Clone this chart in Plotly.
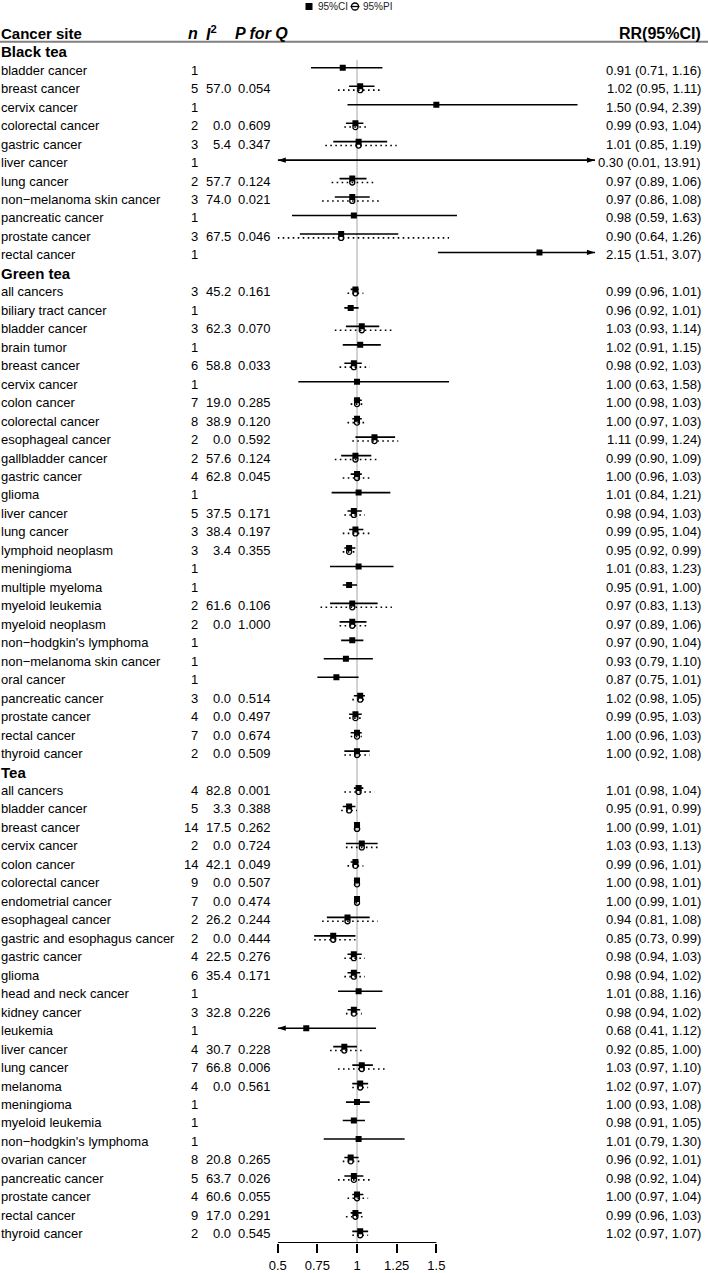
import plotly.graph_objects as go

W, H = 708, 1273
FONT = "Liberation Sans, Arial, sans-serif"
MINUS = "\u2212"

group_names = ["Black tea", "Green tea", "Tea"]

black_sites = ["bladder cancer", "breast cancer", "cervix cancer", "colorectal cancer", "gastric cancer",
               "liver cancer", "lung cancer", f"non{MINUS}melanoma skin cancer", "pancreatic cancer",
               "prostate cancer", "rectal cancer"]
black_n = [1, 5, 1, 2, 3, 1, 2, 3, 1, 3, 1]
black_i2 = [None, 57.0, None, 0.0, 5.4, None, 57.7, 74.0, None, 67.5, None]
black_p = [None, 0.054, None, 0.609, 0.347, None, 0.124, 0.021, None, 0.046, None]
black_rr = [0.91, 1.02, 1.50, 0.99, 1.01, 0.30, 0.97, 0.97, 0.98, 0.90, 2.15]
black_lo = [0.71, 0.95, 0.94, 0.93, 0.85, 0.01, 0.89, 0.86, 0.59, 0.64, 1.51]
black_hi = [1.16, 1.11, 2.39, 1.04, 1.19, 13.91, 1.06, 1.08, 1.63, 1.26, 3.07]
black_pi_lo = [None, 0.88, None, 0.92, 0.80, None, 0.84, 0.78, None, 0.50, None]
black_pi_hi = [None, 1.16, None, 1.06, 1.25, None, 1.12, 1.14, None, 1.58, None]

green_sites = ["all cancers", "biliary tract cancer", "bladder cancer", "brain tumor", "breast cancer",
               "cervix cancer", "colon cancer", "colorectal cancer", "esophageal cancer", "gallbladder cancer",
               "gastric cancer", "glioma", "liver cancer", "lung cancer", "lymphoid neoplasm", "meningioma",
               "multiple myeloma", "myeloid leukemia", "myeloid neoplasm", f"non{MINUS}hodgkin's lymphoma",
               f"non{MINUS}melanoma skin cancer", "oral cancer", "pancreatic cancer", "prostate cancer",
               "rectal cancer", "thyroid cancer"]
green_n = [3, 1, 3, 1, 6, 1, 7, 8, 2, 2, 4, 1, 5, 3, 3, 1, 1, 2, 2, 1, 1, 1, 3, 4, 7, 2]
green_i2 = [45.2, None, 62.3, None, 58.8, None, 19.0, 38.9, 0.0, 57.6, 62.8, None, 37.5, 38.4, 3.4, None,
            None, 61.6, 0.0, None, None, None, 0.0, 0.0, 0.0, 0.0]
green_p = [0.161, None, 0.070, None, 0.033, None, 0.285, 0.120, 0.592, 0.124, 0.045, None, 0.171, 0.197,
           0.355, None, None, 0.106, 1.000, None, None, None, 0.514, 0.497, 0.674, 0.509]
green_rr = [0.99, 0.96, 1.03, 1.02, 0.98, 1.00, 1.00, 1.00, 1.11, 0.99, 1.00, 1.01, 0.98, 0.99, 0.95, 1.01,
            0.95, 0.97, 0.97, 0.97, 0.93, 0.87, 1.02, 0.99, 1.00, 1.00]
green_lo = [0.96, 0.92, 0.93, 0.91, 0.92, 0.63, 0.98, 0.97, 0.99, 0.90, 0.96, 0.84, 0.94, 0.95, 0.92, 0.83,
            0.91, 0.83, 0.89, 0.90, 0.79, 0.75, 0.98, 0.95, 0.96, 0.92]
green_hi = [1.01, 1.01, 1.14, 1.15, 1.03, 1.58, 1.03, 1.03, 1.24, 1.09, 1.03, 1.21, 1.03, 1.04, 0.99, 1.23,
            1.00, 1.13, 1.06, 1.04, 1.10, 1.01, 1.05, 1.03, 1.03, 1.08]
green_pi_lo = [0.94, None, 0.86, None, 0.89, None, 0.96, 0.94, 0.97, 0.86, 0.91, None, 0.92, 0.91, 0.91, None,
               None, 0.77, 0.89, None, None, None, 0.97, 0.95, 0.96, 0.92]
green_pi_hi = [1.04, None, 1.23, None, 1.08, None, 1.04, 1.06, 1.26, 1.14, 1.09, None, 1.05, 1.08, 1.00, None,
               None, 1.22, 1.06, None, None, None, 1.06, 1.03, 1.03, 1.08]

tea_sites = ["all cancers", "bladder cancer", "breast cancer", "cervix cancer", "colon cancer",
             "colorectal cancer", "endometrial cancer", "esophageal cancer", "gastric and esophagus cancer",
             "gastric cancer", "glioma", "head and neck cancer", "kidney cancer", "leukemia", "liver cancer",
             "lung cancer", "melanoma", "meningioma", "myeloid leukemia", f"non{MINUS}hodgkin's lymphoma",
             "ovarian cancer", "pancreatic cancer", "prostate cancer", "rectal cancer", "thyroid cancer"]
tea_n = [4, 5, 14, 2, 14, 9, 7, 2, 2, 4, 6, 1, 3, 1, 4, 7, 4, 1, 1, 1, 8, 5, 4, 9, 2]
tea_i2 = [82.8, 3.3, 17.5, 0.0, 42.1, 0.0, 0.0, 26.2, 0.0, 22.5, 35.4, None, 32.8, None, 30.7, 66.8, 0.0,
          None, None, None, 20.8, 63.7, 60.6, 17.0, 0.0]
tea_p = [0.001, 0.388, 0.262, 0.724, 0.049, 0.507, 0.474, 0.244, 0.444, 0.276, 0.171, None, 0.226, None,
         0.228, 0.006, 0.561, None, None, None, 0.265, 0.026, 0.055, 0.291, 0.545]
tea_rr = [1.01, 0.95, 1.00, 1.03, 0.99, 1.00, 1.00, 0.94, 0.85, 0.98, 0.98, 1.01, 0.98, 0.68, 0.92, 1.03,
          1.02, 1.00, 0.98, 1.01, 0.96, 0.98, 1.00, 0.99, 1.02]
tea_lo = [0.98, 0.91, 0.99, 0.93, 0.96, 0.98, 0.99, 0.81, 0.73, 0.94, 0.94, 0.88, 0.94, 0.41, 0.85, 0.97,
          0.97, 0.93, 0.91, 0.79, 0.92, 0.92, 0.97, 0.96, 0.97]
tea_hi = [1.04, 0.99, 1.01, 1.13, 1.01, 1.01, 1.01, 1.08, 0.99, 1.03, 1.02, 1.16, 1.02, 1.12, 1.00, 1.10,
          1.07, 1.08, 1.05, 1.30, 1.01, 1.04, 1.04, 1.03, 1.07]
tea_pi_lo = [0.92, 0.90, 0.98, 0.93, 0.94, 0.98, 0.99, 0.78, 0.73, 0.92, 0.92, None, 0.93, None, 0.83, 0.88,
             0.97, None, None, None, 0.91, 0.88, 0.94, 0.93, 0.97]
tea_pi_hi = [1.11, 1.00, 1.02, 1.13, 1.04, 1.01, 1.01, 1.13, 0.99, 1.05, 1.05, None, 1.03, None, 1.03, 1.19,
             1.07, None, None, None, 1.02, 1.09, 1.07, 1.05, 1.07]

x_ticks = [0.5, 0.75, 1, 1.25, 1.5]
x_tick_labels = ["0.5", "0.75", "1", "1.25", "1.5"]
x_clip = (0.5, 2.5)

groups = [
    (group_names[0], black_sites, black_n, black_i2, black_p, black_rr, black_lo, black_hi, black_pi_lo, black_pi_hi),
    (group_names[1], green_sites, green_n, green_i2, green_p, green_rr, green_lo, green_hi, green_pi_lo, green_pi_hi),
    (group_names[2], tea_sites, tea_n, tea_i2, tea_p, tea_rr, tea_lo, tea_hi, tea_pi_lo, tea_pi_hi),
]

headers = []
rows = []
r = 0
for g in groups:
    name, sites, ns, i2s, ps, rrs, los, his, plos, phis = g
    headers.append((name, r))
    r += 1
    for k in range(len(sites)):
        rows.append(dict(row=r, site=sites[k], n=ns[k], i2=i2s[k], p=ps[k], rr=rrs[k], lo=los[k], hi=his[k],
                         plo=plos[k], phi=phis[k]))
        r += 1
last_row = r - 1

Y_TOP = -2.8
Y_BOT = last_row + 0.5
AX_PX = 1243
CI_OFF = -0.13
PI_OFF = 0.08


def px(x):
    return x / W


def py(y):
    return 1 - y / H


fig = go.Figure()

# CI lines (clipped to the visible range)
ci_x, ci_y = [], []
arr_r_x, arr_r_y, arr_l_x, arr_l_y = [], [], [], []
for d in rows:
    lo, hi = d["lo"], d["hi"]
    yy = d["row"] + CI_OFF
    ci_x += [max(lo, x_clip[0]), min(hi, x_clip[1]), None]
    ci_y += [yy, yy, None]
    if hi > x_clip[1]:
        arr_r_x.append(x_clip[1])
        arr_r_y.append(yy)
    if lo < x_clip[0]:
        arr_l_x.append(x_clip[0])
        arr_l_y.append(yy)
fig.add_trace(go.Scatter(x=ci_x, y=ci_y, mode="lines", line=dict(color="black", width=1.6),
                         hoverinfo="skip", showlegend=False))
fig.add_trace(go.Scatter(x=arr_r_x, y=arr_r_y, mode="markers",
                         marker=dict(symbol="arrow", angle=90, size=8.5, color="black", line=dict(width=0)),
                         hoverinfo="skip", showlegend=False))
fig.add_trace(go.Scatter(x=arr_l_x, y=arr_l_y, mode="markers",
                         marker=dict(symbol="arrow", angle=-90, size=8.5, color="black", line=dict(width=0)),
                         hoverinfo="skip", showlegend=False))

# PI lines (dotted)
pi_x, pi_y = [], []
for d in rows:
    if d["plo"] is None:
        continue
    yy = d["row"] + PI_OFF
    pi_x += [max(d["plo"], x_clip[0]), min(d["phi"], x_clip[1]), None]
    pi_y += [yy, yy, None]
fig.add_trace(go.Scatter(x=pi_x, y=pi_y, mode="lines",
                         line=dict(color="black", width=1.6, dash="1.6px,3.4px"),
                         hoverinfo="skip", showlegend=False))

sq = [d for d in rows if x_clip[0] <= d["rr"] <= x_clip[1]]
fig.add_trace(go.Scatter(x=[d["rr"] for d in sq], y=[d["row"] + CI_OFF for d in sq], mode="markers",
                         marker=dict(symbol="square", size=6, color="black", line=dict(width=0)),
                         hoverinfo="skip", showlegend=False))
pc = [d for d in rows if d["plo"] is not None]
fig.add_trace(go.Scatter(x=[d["rr"] for d in pc], y=[d["row"] + PI_OFF for d in pc], mode="markers",
                         marker=dict(symbol="circle-open", size=5, color="black", line=dict(width=1.3)),
                         hoverinfo="skip", showlegend=False))

annotations = []
BODY = dict(family=FONT, size=13, color="black")
HEAD = dict(family=FONT, size=15, color="black")
HEAD2 = dict(family=FONT, size=16, color="black")


def txt(x, y, s, anchor, font, yref="y"):
    annotations.append(dict(x=px(x), y=y, xref="paper", yref=yref, text=s, showarrow=False,
                            xanchor=anchor, yanchor="middle", font=font, borderpad=0))


txt(0, -1, "<b>Cancer site</b>", "left", HEAD)
txt(198.5, -1, "<b><i>n</i></b>", "right", HEAD2)
txt(205, -1, "<b><i>I</i><sup>2</sup></b>", "left", HEAD2)
txt(233.5, -1, "<b><i>P for Q</i></b>", "left", HEAD2)
txt(702, -1, "<b>RR(95%CI)</b>", "right", HEAD2)

for name, rr_ in headers:
    txt(0, rr_, f"<b>{name}</b>", "left", HEAD)

for d in rows:
    y = d["row"]
    txt(0, y, d["site"], "left", BODY)
    txt(198.5, y, str(d["n"]), "right", BODY)
    if d["i2"] is not None:
        txt(231.5, y, f"{d['i2']:.1f}", "right", BODY)
        txt(237.5, y, f"{d['p']:.3f}", "left", BODY)
    txt(702, y, f"{d['rr']:.2f} ({d['lo']:.2f}, {d['hi']:.2f})", "right", BODY)

LEG = dict(family=FONT, size=10, color="#222")
annotations.append(dict(x=px(316.5), y=py(6.5), xref="paper", yref="paper", text="95%CI", showarrow=False,
                        xanchor="left", yanchor="middle", font=LEG, borderpad=0))
annotations.append(dict(x=px(362), y=py(6.5), xref="paper", yref="paper", text="95%PI", showarrow=False,
                        xanchor="left", yanchor="middle", font=LEG, borderpad=0))

shapes = [
    dict(type="line", xref="paper", yref="paper", x0=0, x1=1, y0=py(41.7), y1=py(41.7),
         line=dict(color="#808080", width=2)),
    dict(type="line", xref="x", yref="y", x0=1, x1=1, y0=0.45, y1=Y_BOT,
         line=dict(color="#c8c8c8", width=1.6), layer="below"),
    dict(type="line", xref="x", yref="y", x0=x_ticks[0], x1=x_ticks[-1], y0=Y_BOT, y1=Y_BOT,
         line=dict(color="black", width=1.8)),
    dict(type="rect", xref="paper", yref="paper", x0=px(305.5), x1=px(312.5), y0=py(10), y1=py(3),
         fillcolor="black", line=dict(width=0)),
    dict(type="circle", xref="paper", yref="paper", x0=px(351.5), x1=px(358.5), y0=py(10), y1=py(3),
         line=dict(color="black", width=1.3)),
    dict(type="line", xref="paper", yref="paper", x0=px(350.5), x1=px(359.5), y0=py(6.5), y1=py(6.5),
         line=dict(color="black", width=1.3)),
]

fig.update_layout(
    width=W, height=H,
    margin=dict(l=0, r=0, t=0, b=0, pad=0, autoexpand=False),
    paper_bgcolor="white", plot_bgcolor="white",
    showlegend=False,
    font=dict(family=FONT, size=13, color="black"),
    xaxis=dict(domain=[277.7 / W, 595 / W], range=list(x_clip), tickvals=x_ticks, ticktext=x_tick_labels,
               ticks="outside", ticklen=9, tickwidth=1.8, tickcolor="black", showgrid=False, zeroline=False,
               showline=False, tickfont=dict(family=FONT, size=13, color="black"), fixedrange=True,
               automargin=False, ticklabelstandoff=1),
    yaxis=dict(domain=[(H - AX_PX) / H, 1], range=[Y_BOT, Y_TOP], visible=False, fixedrange=True,
               automargin=False),
    annotations=annotations,
    shapes=shapes,
)

fig.write_html("out.html", config={"displayModeBar": False},
               post_script="document.body.style.margin='0px';document.body.style.overflow='hidden';")
